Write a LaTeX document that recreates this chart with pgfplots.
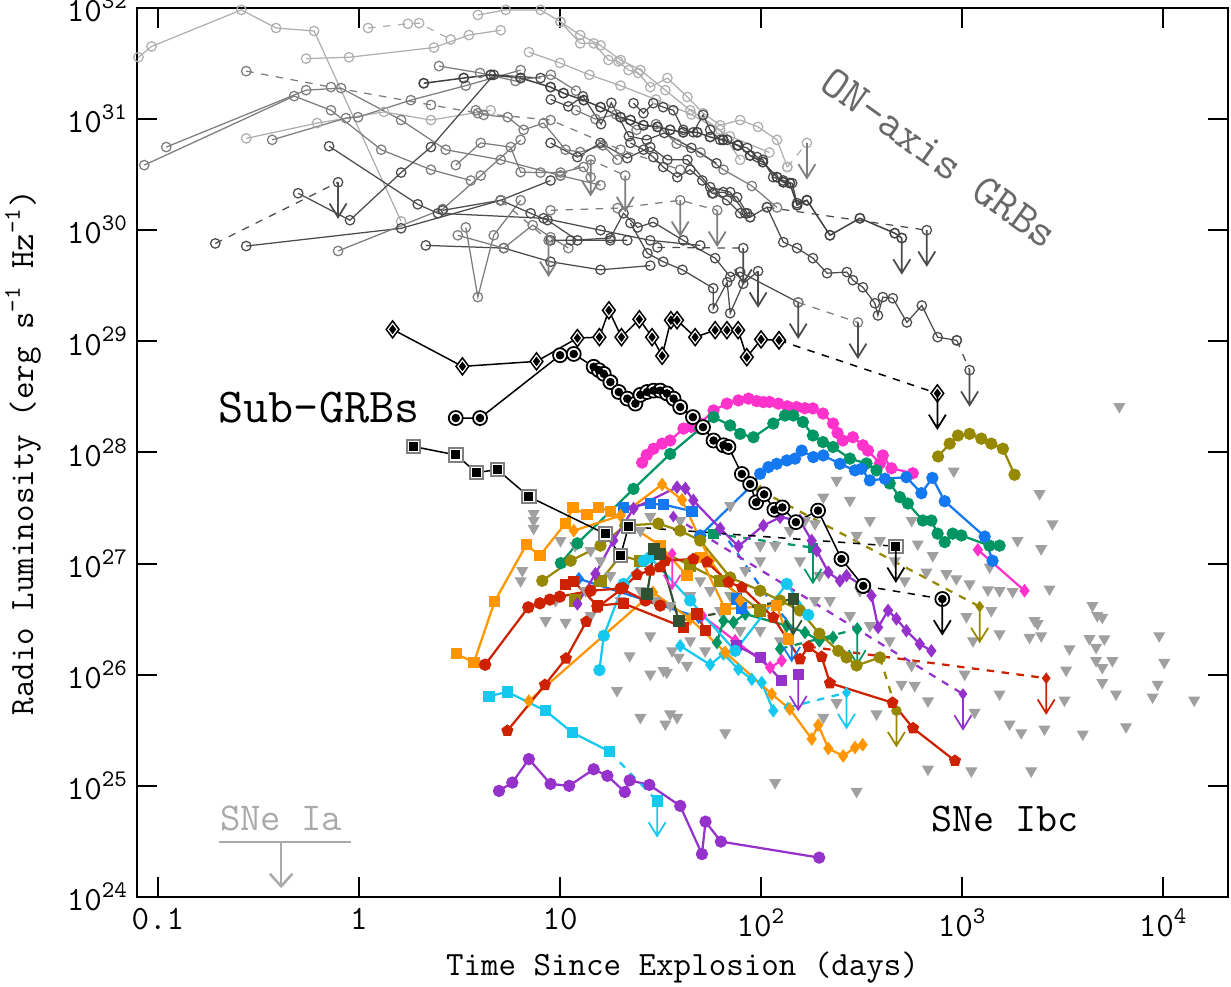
\documentclass[border=0pt]{standalone}
\usepackage{pgfplots}
\pgfplotsset{compat=1.18}
\usetikzlibrary{arrows.meta}

\definecolor{mag}{RGB}{255,51,204}
\definecolor{grn}{RGB}{0,150,100}
\definecolor{blu}{RGB}{20,120,240}
\definecolor{oli}{RGB}{150,136,0}
\definecolor{pur}{RGB}{150,50,204}
\definecolor{cya}{RGB}{20,200,240}
\definecolor{ora}{RGB}{255,150,0}
\definecolor{rd}{RGB}{204,34,0}
\definecolor{dgr}{RGB}{50,80,50}
\definecolor{tri}{RGB}{160,160,160}
\definecolor{gl}{RGB}{175,175,175}
\definecolor{gm}{RGB}{125,125,125}
\definecolor{gd}{RGB}{75,75,75}
\definecolor{txtg}{RGB}{105,105,105}
\definecolor{iag}{RGB}{170,170,170}

% upper limit arrow
\pgfdeclareplotmark{ul}{%
  \pgfpathmoveto{\pgfpoint{0pt}{0pt}}\pgfpathlineto{\pgfpoint{0pt}{-14pt}}%
  \pgfpathmoveto{\pgfpoint{-3.4pt}{-8.5pt}}\pgfpathlineto{\pgfpoint{0pt}{-14pt}}%
  \pgfpathlineto{\pgfpoint{3.4pt}{-8.5pt}}%
  \pgfusepathqstroke}

\pgfplotsset{
  grbL/.style={color=gl, line width=0.5pt, mark=o, mark size=1.9pt, mark options={solid}},
  grbM/.style={color=gm, line width=0.5pt, mark=o, mark size=1.9pt, mark options={solid}},
  grbD/.style={color=gd, line width=0.5pt, mark=o, mark size=1.9pt, mark options={solid}},
  sn/.style={line width=0.9pt, mark size=2pt, mark options={solid}},
  lim/.style={only marks, mark=ul, line width=0.7pt, mark options={solid}},
}

\begin{document}
\begin{tikzpicture}
\begin{axis}[
  xmode=log, ymode=log,
  scale only axis, width=436.4pt, height=355.6pt,
  xmin=0.0787, xmax=21000, ymin=1e24, ymax=1e32,
  xtick={0.1,1,10,100,1000,10000},
  xticklabels={0.1,1,10,10\textsuperscript{2},10\textsuperscript{3},10\textsuperscript{4}},
  ytick={1e24,1e25,1e26,1e27,1e28,1e29,1e30,1e31,1e32},
  yticklabels={10\textsuperscript{24},10\textsuperscript{25},10\textsuperscript{26},10\textsuperscript{27},10\textsuperscript{28},10\textsuperscript{29},10\textsuperscript{30},10\textsuperscript{31},10\textsuperscript{32}},
  xminorticks=false, yminorticks=false,
  tick align=inside, major tick length=8pt,
  every tick/.style={black, line width=0.8pt},
  axis line style={line width=0.8pt},
  tick label style={font=\ttfamily\fontsize{13.6}{15}\selectfont},
  xticklabel style={yshift=-1pt},
]

% ---- SNe Ibc non-detections
\addplot[only marks, mark=triangle*, mark size=2.4pt, mark options={rotate=180, fill=tri, draw=tri}] coordinates {
(6050,2.59e28)(908,6.8e27)(2426,4.25e27)(2812,2.28e27)(1885,1.61e27)(2472,1.36e27)
(1370,9.3e26)(1535,5.7e26)(2718,5.9e26)(4446,4.19e26)(4699,3.4e26)(4977,3.28e26)
(2291,3.06e26)(2371,2.88e26)(2163,2.17e26)(2472,2.24e26)(3417,1.71e26)(4295,2.11e26)
(4636,1.76e26)(5093,2.1e26)(9550,2.24e26)(4636,1.34e26)(4977,1.16e26)(5585,1.34e26)
(10115,1.29e26)(3289,1.1e26)(4977,8.5e25)(9376,8.2e25)(1535,6.7e25)(5822,6.7e25)
(8851,6.3e25)(3228,5.9e25)(14260,5.9e25)(1722,3.6e25)(1968,3.0e25)(2566,3.24e25)
(3980,2.92e25)(6531,3.4e25)(676,1.41e25)(1111,1.36e25)(2205,1.36e25)
(203.9,3.96e27)(237.5,5.6e27)(185.4,2.28e27)(298.5,1.79e27)(714,1.18e27)(601,1.5e27)
(664,8.36e26)(835,8.1e26)(935,7.3e26)(1089,6.56e26)(1343,5.8e26)(1782,5.6e26)
(1396,3.78e26)(1050,3.33e26)(1132,2.02e26)(1535,2.33e26)(1029,1.01e26)(560,1.21e26)
(499,8.2e25)(581,8.0e25)(676,5.8e25)(1153,4.58e25)(375,4.43e25)
(7.39,2.82e27)(7.39,2.44e27)(7.39,2.07e27)(6.49,8.65e26)(6.37,7.0e26)(10.65,2.96e26)
(19.2,7.2e25)(22.2,1.48e26)(28.1,2.24e26)(28.1,1.01e26)(32.7,1.09e26)(34.0,1.05e26)
(36.1,1.64e26)(38.9,1.43e26)(42.8,1.21e26)(25.1,4.12e25)(33.4,3.6e25)(35.3,4.43e25)
(38.2,4.12e25)(66.3,3.0e25)(117.4,1.07e25)(298.5,8.9e24)(203.9,4.12e25)(237.5,5.6e25)
(10.05,1.61e27)(11.9,1.45e27)(14.2,1.31e27)(15.9,1.06e27)(17.8,7.8e26)(13.4,5.7e26)
(20.0,4.65e26)(25.1,5.7e26)(29.8,4.65e26)(35.3,4.19e26)(44.4,5.15e26)(49.8,7.0e26)
(55.8,5.7e26)(70.2,5.15e26)(83.4,8.65e26)(98.9,1.06e27)(117.4,1.45e27)(139,1.98e27)
(165.3,2.44e27)(195,2.96e27)(276.6,3.7e27)(347.5,2.44e27)(390,1.61e27)(462,1.06e27)
(518,7.0e26)(310,5.7e26)(246.6,1.06e27)(220,4.65e26)(276.6,3.4e26)(347.5,2.76e26)
(436,2.02e26)(98.9,2.49e26)(124.3,2.02e26)(78.7,2.49e26)(62.6,3.78e26)(44.4,2.02e26)
(52.7,1.64e26)(28.1,2.65e27)(25.1,1.98e27)(39.6,2.44e27)(70.2,3.33e27)(9.5,4.65e26)
(8.47,3.06e26)(14.2,3.4e26)(561,2.44e27)(98.9,1.45e27)(156,1.06e27)(195,7.8e26)(185,4.65e26)
};

% ---- on-axis GRBs
\addplot[grbL] coordinates {(0.080,3.6e31)(0.0929,4.5e31)(0.260,9.6e31)(0.387,6.6e31)(0.598,6.2e31)(1.62,1.2e30)};
\addplot[grbM] coordinates {(0.0855,3.85e30)(0.476,1.61e31)(0.726,1.2e31)(1.29,5.3e30)(2.28,3.5e30)(3.60,2.8e30)};
\addplot[grbM] coordinates {(0.110,5.6e30)(0.546,1.82e31)(0.814,1.9e31)(1.62,9.8e30)(2.70,5.3e30)(5.07,4.3e30)(10.05,3.1e30)(15.9,2.54e30)};
\addplot[grbL] coordinates {(0.275,6.7e30)(0.619,9.2e30)(1.33,1.16e31)(2.28,9.8e30)(4.52,1.2e31)};
\addplot[grbM] coordinates {(0.370,6.5e30)(0.861,1.02e31)(0.989,1.04e31)(1.81,1.48e31)(3.40,2.0e31)(6.37,2.76e31)};
\addplot[grbD] coordinates {(0.710,5.7e30)(1.96,1.71e30)(2.47,1.42e30)(8.28,1.28e30)(15.9,1.0e30)(28.1,8.1e29)(49.8,7.3e29)};
\addplot[grbD, dashed] coordinates {(0.193,7.6e29)(0.787,2.7e30)};
\addplot[grbD] coordinates {(0.498,2.15e30)(0.902,1.23e30)(1.62,3.3e30)(2.28,5.6e30)(4.68,2.5e31)(8.0,2.34e31)};
\addplot[grbD] coordinates {(0.275,7.2e29)(1.62,1.04e30)(5.07,1.86e30)(8.97,2.8e30)};
\addplot[grbM] coordinates {(0.787,6.5e29)(2.61,1.55e30)(4.03,3.1e30)(6.37,6.5e30)};
\addplot[grbD] coordinates {(2.15,7.3e29)(5.25,6.9e29)(8.97,5.2e29)(15.9,4.4e29)(28.1,4.8e29)};
\addplot[grbM] coordinates {(3.40,1.06e30)(3.90,2.5e29)(4.68,9.0e29)(6.37,1.86e30)};
\addplot[grbM, dashed] coordinates {(0.275,2.7e31)(0.726,1.94e31)(2.28,1.34e31)(3.90,1.13e31)(8.97,9.8e30)(20.0,5.3e30)(39.6,3.5e30)};
\addplot[grbL] coordinates {(0.546,3.5e31)(0.892,3.6e31)(2.36,4.4e31)(3.52,5.7e31)(5.07,6.3e31)};
\addplot[grbL, dashed] coordinates {(1.11,6.6e31)(1.75,7.2e31)(1.99,7.3e31)(2.86,5.2e31)};
\addplot[grbL] coordinates {(3.90,8.65e31)(5.37,9.6e31)(8.0,9.6e31)(10.05,7.5e31)(12.6,5.7e31)(15.9,4.6e31)(20.0,3.4e31)(25.1,2.76e31)(33.4,1.82e31)(44.4,1.2e31)(62.6,8.0e30)(78.7,4.3e30)};
\addplot[grbL] coordinates {(10.05,7.5e31)(12.6,4.8e31)(14.7,4.8e31)(17.4,3.4e31)(19.5,3.3e31)(21.9,2.76e31)(24.5,2.6e31)(28.1,1.94e31)(34.2,2.34e31)(43.0,1.58e31)(51.5,1.13e31)(62.6,8.8e30)(78.7,9.8e30)(96.6,8.5e30)(120,6.5e30)(135,3.7e30)};
\addplot[grbL, dashed] coordinates {(135,3.7e30)(169,6.1e30)};
\addplot[grbL] coordinates {(7,4e31)(10,3.2e31)(14,2.5e31)(20,2e31)(30,1.5e31)(45,1.1e31)(70,7e30)(110,5e30)};
\addplot[grbM] coordinates {(2.5,3e31)(4,2.6e31)(6,2.2e31)(9,2.5e31)(12,1.8e31)};
\addplot[grbM] coordinates {(12,1.2e31)(15,1.0e31)(19,1.1e31)(24,8e30)(30,9e30)(38,6e30)(50,5e30)(65,3.5e30)(90,2.5e30)(120,1.6e30)};
\addplot[grbD] coordinates {(9,1.5e31)(11,1.3e31)(13,1.6e31)(16,9e30)(18,1.4e31)(22,7e30)(27,6.5e30)(33,7.5e30)(45,5.5e30)(60,4e30)};
\addplot[grbD] coordinates {(23.2,1.39e31)(26.0,1.13e31)(29.1,1.39e31)(32.6,1.28e31)(36.6,1.2e31)(41.0,8.0e30)(46.0,7.6e30)(51.5,1.09e31)(55.8,8.0e30)(62.6,6.5e30)(67.8,6.5e30)(76.0,5.8e30)(85.3,5.5e30)(95.5,4.55e30)(102,4.3e30)(114.8,3.0e30)(129,2.8e30)(142.6,2.65e30)(151,1.75e30)(169,1.86e30)};
\addplot[grbD] coordinates {(22.4,6.1e30)(26.0,5.3e30)(29.1,4.55e30)(32.6,3.7e30)(38.3,3.0e30)(44.4,3.5e30)(51.0,2.8e30)(57.1,2.15e30)(64.8,2.2e30)(76.0,1.98e30)(85.3,1.42e30)};
\addplot[grbM] coordinates {(3.81,1.2e31)(4.17,1.09e31)(5.49,1.04e31)(6.59,8.0e30)(8.28,9.2e30)(10.65,5.3e30)(12.6,5.05e30)(16.3,5.8e30)(19.3,4.3e30)};
\addplot[grbM] coordinates {(3.03,3.85e30)(4.03,6.1e30)(5.68,5.6e30)(6.37,3.33e30)(8.0,3.3e30)(10.05,3.3e30)(13.1,3.7e30)(14.2,3.0e30)};
\addplot[grbD] coordinates {(2.61,1.51e30)(5.07,1.86e30)(7.14,1.42e30)(8.67,1.23e30)(12.2,8.1e29)(17.8,8.1e29)(21.6,8.1e29)};
\addplot[grbM] coordinates {(3.10,9.0e29)(5.25,6.9e29)(7.31,1.11e30)(8.97,8.65e29)(11.0,6.9e29)};
\addplot[grbD] coordinates {(57.8,2.15e30)(67.8,1.86e30)(78.7,1.42e30)(88.2,1.31e30)(107,1.61e30)(129,7.8e29)(151,6.9e29)(181,5.6e29)(213,4.1e29)(267,4.2e29)(286,3.55e29)(321,3.06e29)(368,2.2e29)(381,1.71e29)(403,2.5e29)(452,2.44e29)(531,1.48e29)(630,2.1e29)(755,1.09e29)(940,1.02e29)};
\addplot[grbD, dashed] coordinates {(940,1.02e29)(1089,5.5e28)};
\addplot[grbD] coordinates {(22.4,1.16e30)(27.2,6.2e29)(32.6,5.2e29)(40.6,4.4e29)(57.8,3.0e29)(57.8,1.98e29)(67.8,3.4e29)(70.2,1.79e29)(81.5,3.3e29)(96.6,4.28e29)};
\addplot[color=black!75, line width=0.6pt, mark=o, mark size=1.9pt] coordinates {(2.10,2.1e31)(3.32,2.34e31)(4.52,2.5e31)(6.37,2.34e31)(8.97,1.94e31)(10.4,1.71e31)(13.1,1.48e31)(15.9,1.28e31)(20.0,1.04e31)(22.4,9.8e30)(26.0,8.8e30)(30.5,8.5e30)(35.3,8.0e30)(41.0,7.6e30)(48.1,7.6e30)(55.8,6.9e30)(64.8,6.5e30)(76.9,5.8e30)(88.2,4.7e30)(102,4.1e30)(120,3.0e30)(129,2.7e30)(139,2.65e30)(151,1.68e30)(169,1.86e30)(220,9.0e29)(310,1.28e30)(462,9.4e29)(501,8.5e29)};
\addplot[grbD] coordinates {(8.97,6.1e30)(12.2,4.55e30)(15.9,6.1e30)(21.6,4.45e30)(28.1,5.6e30)(34.2,4.3e30)(43.0,4.3e30)(55.8,2.44e30)(70.2,2.2e30)(83.4,1.42e30)(88.2,1.31e30)};
\addplot[grbD] coordinates {(8.97,8.1e29)(11.3,8.1e29)(17.8,8.5e29)(20.7,1.42e30)(24.3,1.06e30)(29.1,1.18e30)(41.0,8.1e29)(59.1,5.6e29)(70.2,3.8e29)(78.7,4.2e29)(153,2.24e29)};
\addplot[grbM, dashed] coordinates {(153,2.24e29)(303,1.48e29)};
\addplot[grbM, dashed] coordinates {(8.97,1.51e30)(19.3,1.58e30)(39.6,1.86e30)(60.5,1.51e30)};
\addplot[grbD, dashed] coordinates {(30.5,7.0e29)(81.5,6.9e29)};
\addplot[grbD, dashed] coordinates {(107,1.61e30)(667,1.0e30)};
\addplot[grbM, dashed] coordinates {(5.07,1.86e30)(8.77,8.1e29)};
\addplot[grbM, dashed] coordinates {(10.05,3.1e30)(14.2,4.3e30)(21.1,3.1e30)};
\addplot[gd, lim] coordinates {(0.787,2.7e30)(1089,5.5e28)(501,8.5e29)(153,2.24e29)(81.5,6.9e29)(667,1.0e30)(96.6,4.28e29)(303,1.48e29)};
\addplot[gm, lim] coordinates {(169,6.1e30)(39.6,1.86e30)(60.5,1.51e30)(8.77,8.1e29)(14.2,4.3e30)(21.1,3.1e30)};

% ---- SNe Ibc detections
% magenta
\addplot[mag, sn, mark=*] coordinates {(25.6,8.1e27)(27,9.5e27)(29.2,1.08e28)(32.2,1.2e28)(35.3,1.28e28)(41.1,1.64e28)(45,1.7e28)(49.8,1.82e28)(58.0,2.39e28)(67.6,2.75e28)(77.1,2.94e28)(86.5,3.05e28)(95,2.9e28)(102.6,2.84e28)(110,2.85e28)(121.9,2.75e28)(135,2.6e28)(150,2.56e28)(165,2.5e28)(181,2.49e28)(203,2.24e28)(228,1.82e28)(240,1.5e28)(255,1.28e28)(286,1.37e28)(321,1.16e28)(340,1.04e28)(390,7.96e27)(403,9.4e27)(445,7.2e27)(568,6.5e27)};
\addplot[mag, sn, mark=diamond*] coordinates {(1197,1.33e27)(2043,5.7e26)};
\addplot[mag, sn, mark=diamond*] coordinates {(50.8,3.4e26)(74.3,2.02e26)(110.8,1.16e26)(126.7,1.34e26)};
\addplot[mag, sn, mark=diamond*, mark size=1.6pt] coordinates {(36.1,1.23e27)};
\addplot[mag, lim] coordinates {(36.1,1.23e27)};
% green
\addplot[grn, sn, mark=*] coordinates {(10.1,1.01e27)(12.2,1.52e27)(23.2,4.7e27)(35.3,9.7e27)(49.8,1.64e28)(58.0,2.08e28)(70.2,1.75e28)(78.7,1.47e28)(91.6,1.37e28)(115,1.82e28)(131.5,2.15e28)(144.6,2.15e28)(161.4,1.88e28)(181,1.42e28)(203,1.24e28)(228,1.12e28)(276.6,8.8e27)(334.6,7.96e27)(375,6.9e27)(436,5.26e27)(490,3.96e27)(537,3.47e27)(637,2.44e27)(703,2.44e27)(755,1.86e27)(819,1.56e27)(897,1.86e27)(991,1.79e27)(1368,1.45e27)(1535,1.45e27)};
\addplot[grn, sn, mark=diamond*] coordinates {(60.3,1.95e26)(65.0,3.06e26)(72.9,2.96e26)(83.4,3.52e26)(134.2,2.76e26)(165.3,2.4e26)(195,2.02e26)(228,2.17e26)};
\addplot[grn, sn, dashed, mark=square*, mark size=1.6pt] coordinates {(58,1.86e27)(181,1.39e27)};
\addplot[grn, sn, dashed, mark=diamond*] coordinates {(124.3,1.71e26)(300.6,2.58e26)};
\addplot[grn, lim] coordinates {(181,1.39e27)(300.6,2.58e26)};
% blue
\addplot[blu, sn, mark=*] coordinates {(49.8,1.79e27)(89.9,5.05e27)(98.9,6.43e27)(108.7,7.38e27)(119.6,7.9e27)(134.2,8.47e27)(147.5,8.8e27)(159.2,1.04e28)(181.8,9.08e27)(203.9,9.4e27)(246.6,7.9e27)(293,6.9e27)(316,7.13e27)(347.5,5.6e27)(413,5.8e27)(528,5.99e27)(627,4.3e27)(711,5.9e27)(819,3.64e27)(1294,1.75e27)(1416,1.06e27)};
\addplot[blu, sn, mark=diamond*] coordinates {(12.4,7.3e26)(48.9,3.28e26)};
\addplot[blu, sn, mark=square*, mark size=1.8pt] coordinates {(20.7,3.21e27)(28.1,3.45e27)(32.6,3.4e27)(45.3,2.96e27)};
\addplot[blu, sn, mark=square*, mark size=1.8pt] coordinates {(75.7,4.8e26)(80.2,3.99e26)};
\addplot[blu, sn, dashed] coordinates {(62.6,2.07e27)(110.8,4.65e26)(141.9,2.76e26)};
\addplot[blu, lim] coordinates {(141.9,2.76e26)};
% olive
\addplot[oli, sn, mark=*] coordinates {(759,9.2e27)(867,1.2e28)(953,1.42e28)(1089,1.47e28)(1245,1.33e28)(1396,1.2e28)(1595,1.08e28)(1822,6.3e27)};
\addplot[oli, sn, mark=*] coordinates {(8.16,7.0e26)(11.3,1.06e27)(15.9,1.45e27)(21.1,2.2e27)(30.8,2.29e27)(39.6,1.98e27)(49.8,1.61e27)(70.2,7.5e26)(98.9,5.7e26)(124.3,4.65e26)(156,3.78e26)(195,2.34e26)(242,1.64e26)(266,1.43e26)(298.5,1.21e26)(390,1.43e26)};
\addplot[oli, sn, dashed, mark=*, mark size=1.6pt] coordinates {(390,1.43e26)(471,4.74e25)};
\addplot[oli, sn, mark=square*, mark size=2pt] coordinates {(11.9,4.65e26)(15.9,7.0e26)(20.0,1.18e27)(25.1,1.06e27)(31.5,1.31e27)(44.4,9.6e26)(62.6,7.0e26)(98.9,3.78e26)};
\addplot[oli, sn, dashed, mark=diamond*, mark size=1.6pt] coordinates {(98.9,4.55e27)(1222,4.1e26)};
\addplot[oli, lim] coordinates {(471,4.74e25)(1222,4.1e26)};
% purple
\addplot[pur, sn, mark=*] coordinates {(4.97,9.0e24)(5.79,1.07e25)(7.0,1.74e25)(8.97,1.04e25)(11.1,1.0e25)(14.7,1.41e25)(17.2,1.23e25)(21.0,8.8e24)(22.2,1.12e25)(27.8,1.02e25)(39.6,6.6e24)(50.8,2.43e24)(52.9,4.76e24)(63.1,3.15e24)(194.5,2.26e24)};
\addplot[pur, sn, mark=diamond*] coordinates {(12.2,4.34e26)(15.0,8.1e26)(18.4,1.61e27)(23.2,3.13e27)(38.2,4.87e27)(42.0,4.74e27)(46.0,3.7e27)(62.6,2.07e27)(77.1,1.43e27)(102.6,2.2e27)(124.3,2.61e27)(156,2.44e27)(178.5,1.61e27)(189,1.31e27)(216,8.36e26)(246.6,7.0e26)(266,7.8e26)(328,6.1e26)(354,5.15e26)(382,2.67e26)(428,3.78e26)(471,3.18e26)(528,2.49e26)(615,1.89e26)(703,1.64e26)};
\addplot[pur, sn, dashed, mark=diamond*, mark size=1.6pt] coordinates {(36.6,2.65e27)(1009,6.7e25)};
\addplot[pur, sn, mark=square*, mark size=1.8pt] coordinates {(75.7,1.82e26)(98.9,1.43e26)(126.7,8.8e25)};
\addplot[pur, sn, mark=square*, mark size=1.8pt] coordinates {(153,1.0e26)};
\addplot[pur, lim] coordinates {(1009,6.7e25)(153,1.0e26)};
% cyan
\addplot[cya, sn, mark=square*, mark size=1.8pt] coordinates {(4.43,6.4e25)(5.47,7.0e25)(8.47,4.74e25)(11.5,3.02e25)(17.6,2.04e25)};
\addplot[cya, sn, dashed, mark=square*, mark size=1.8pt] coordinates {(17.6,2.04e25)(30.4,7.3e24)};
\addplot[cya, sn, mark=*] coordinates {(15.7,1.1e26)(16.5,2.24e26)(20.7,6.56e26)(26.1,1.06e27)(28.1,1.14e27)(44.4,4.65e26)(74.3,1.64e26)(134.2,6.56e26)(171.6,3.45e26)};
\addplot[cya, sn, mark=diamond*] coordinates {(39.6,1.82e26)(55.8,1.23e26)(65.0,1.54e26)(77.1,1.12e26)(89.9,9.1e25)(100.7,8.5e25)(115,4.74e25)};
\addplot[cya, sn, dashed, mark=diamond*, mark size=1.6pt] coordinates {(136,5.07e25)(266,6.9e25)};
\addplot[cya, lim] coordinates {(30.4,7.3e24)(266,6.9e25)};
% orange
\addplot[ora, sn, mark=square*, mark size=1.8pt] coordinates {(3.05,1.54e26)(3.73,1.29e26)(4.73,4.57e26)(6.8,1.48e27)(7.94,1.18e27)(10.65,2.31e27)(11.6,3.18e27)(13.6,2.75e27)(15.6,3.18e27)(17.8,2.96e27)(22.4,2.2e27)(31.5,1.45e27)(42.8,7.8e26)(49.8,1.14e27)(66.3,3.9e26)(119.6,4.19e26)(136.6,2.1e26)};
\addplot[ora, sn, mark=diamond*] coordinates {(7.0,5.8e25)(29.0,5.5e26)(44.4,3.18e26)(66.3,1.59e26)(113,6.7e25)(139,4.9e25)(178.5,2.64e25)(192.5,3.52e25)(216,2.17e25)(256,1.86e25)(293,2.21e25)(320,2.34e25)};
\addplot[ora, sn, mark=diamond*] coordinates {(11.7,1.98e27)(20.0,2.7e27)(32.2,5.15e27)(40.4,3.75e27)(55.8,1.06e27)(78.7,4.65e26)};
% red
\addplot[rd, sn, mark=*] coordinates {(4.24,1.23e26)(6.95,4.04e26)(7.94,4.39e26)(8.9,4.74e26)(9.98,5.04e26)(14.2,5.7e26)(20.0,5.96e26)(26.6,4.65e26)(31.5,4.19e26)};
\addplot[rd, sn, mark=square*, mark size=1.8pt] coordinates {(10.6,6.5e26)(11.7,6.9e26)(15.3,4.19e26)(20.6,4.39e26)(41.1,2.67e26)(48.0,3.52e26)(52.7,2.49e26)};
\addplot[rd, sn, mark=pentagon*] coordinates {(5.47,3.13e25)(8.41,8.1e25)(10.7,1.4e26)(13.5,3.0e26)(15.3,4.02e26)(20.6,6.04e26)(24.2,7.96e26)(28.1,8.65e26)(31.5,9.27e26)(33.4,1.06e27)(46.1,1.10e27)(53.8,1.03e27)(68.8,6.8e26)(80.2,6.1e26)(115,3.28e26)(156,1.38e26)(171.6,1.79e26)(200,1.45e26)(220,8.4e25)(450,5.6e25)(570,3.3e25)(921,1.68e25)};
\addplot[rd, sn, dashed, mark=diamond*, mark size=1.6pt] coordinates {(171.6,1.79e26)(2618,9.3e25)};
\addplot[rd, lim] coordinates {(2618,9.3e25)};
% dark green
\addplot[dgr, sn, mark=square*, mark size=2pt] coordinates {(27.1,5.33e26)(29.4,1.36e27)(31.5,1.22e27)(38.9,3.06e26)};
\addplot[dgr, sn, dashed, mark=square*, mark size=1.8pt] coordinates {(38.9,3.06e26)(144.6,4.8e26)};
\addplot[dgr, lim] coordinates {(144.6,4.8e26)};

% ---- sub-energetic GRBs
\addplot[black, line width=0.6pt, mark=diamond*, mark size=3.4pt, mark options={fill=white, draw=black, line width=0.6pt}] coordinates {(1.47,1.28e29)(3.27,5.95e28)(7.64,6.6e28)(12.2,1.07e29)(15.7,1.09e29)(17.5,1.9e29)(20.2,1.09e29)(24.8,1.58e29)(28.7,1.09e29)(32.2,7.4e28)(35.6,1.55e29)(38.2,1.55e29)(47.0,1.09e29)(59.1,1.26e29)(67.6,1.26e29)(76.9,1.26e29)(84.9,7.2e28)(100,1.04e29)(122.8,1.02e29)};
\addplot[black, line width=0.6pt, dashed, mark=diamond*, mark size=3.4pt, mark options={solid, fill=white, draw=black, line width=0.6pt}] coordinates {(122.8,1.02e29)(753,3.4e28)};
\addplot[only marks, black, mark=diamond*, mark size=1.6pt] coordinates {(1.47,1.28e29)(3.27,5.95e28)(7.64,6.6e28)(12.2,1.07e29)(15.7,1.09e29)(17.5,1.9e29)(20.2,1.09e29)(24.8,1.58e29)(28.7,1.09e29)(32.2,7.4e28)(35.6,1.55e29)(38.2,1.55e29)(47.0,1.09e29)(59.1,1.26e29)(67.6,1.26e29)(76.9,1.26e29)(84.9,7.2e28)(100,1.04e29)(122.8,1.02e29)(753,3.4e28)};

\addplot[black, line width=0.6pt, mark=*, mark size=2.8pt, mark options={fill=white, draw=black, line width=0.7pt}] coordinates {(3.03,2.04e28)(4.0,2.04e28)(10.0,7.5e28)(11.7,7.7e28)(14.7,5.9e28)(15.6,5.5e28)(16.5,5.1e28)(17.8,4.3e28)(19.6,3.5e28)(21.6,3.05e28)(23.7,2.75e28)(25.1,3.3e28)(27.1,3.5e28)(29.2,3.6e28)(31.5,3.6e28)(34.0,3.4e28)(36.7,3.05e28)(39.6,2.56e28)(45.8,2.08e28)(51.4,1.69e28)(58.0,1.28e28)(65.0,1.16e28)(68.8,1.12e28)(80.2,6.4e27)(88.2,5.2e27)(94.5,3.56e27)(103.5,4.2e27)(116.4,3.05e27)(127.6,3.2e27)(149,2.36e27)(192,3.0e27)(251,1.10e27)(322,6.3e26)};
\addplot[black, line width=0.6pt, dashed, mark=*, mark size=2.8pt, mark options={solid, fill=white, draw=black, line width=0.7pt}] coordinates {(322,6.3e26)(797,4.8e26)};
\addplot[only marks, black, mark=*, mark size=1.5pt] coordinates {(3.03,2.04e28)(4.0,2.04e28)(10.0,7.5e28)(11.7,7.7e28)(14.7,5.9e28)(15.6,5.5e28)(16.5,5.1e28)(17.8,4.3e28)(19.6,3.5e28)(21.6,3.05e28)(23.7,2.75e28)(25.1,3.3e28)(27.1,3.5e28)(29.2,3.6e28)(31.5,3.6e28)(34.0,3.4e28)(36.7,3.05e28)(39.6,2.56e28)(45.8,2.08e28)(51.4,1.69e28)(58.0,1.28e28)(65.0,1.16e28)(68.8,1.12e28)(80.2,6.4e27)(88.2,5.2e27)(94.5,3.56e27)(103.5,4.2e27)(116.4,3.05e27)(127.6,3.2e27)(149,2.36e27)(192,3.0e27)(251,1.10e27)(322,6.3e26)(797,4.8e26)};

\addplot[black, line width=0.6pt, mark=square*, mark size=2.7pt, mark options={fill=white, draw=gray, line width=0.8pt}] coordinates {(1.87,1.13e28)(3.03,9.5e27)(3.85,6.6e27)(4.88,7.0e27)(7.0,4.0e27)(16.8,1.85e27)(20.0,1.18e27)(21.9,2.15e27)};
\addplot[black, line width=0.6pt, dashed, mark=square*, mark size=2.7pt, mark options={solid, fill=white, draw=gray, line width=0.8pt}] coordinates {(21.9,2.15e27)(468,1.43e27)};
\addplot[only marks, black, mark=square*, mark size=1.6pt] coordinates {(1.87,1.13e28)(3.03,9.5e27)(3.85,6.6e27)(4.88,7.0e27)(7.0,4.0e27)(16.8,1.85e27)(20.0,1.18e27)(21.9,2.15e27)(468,1.43e27)};
\addplot[black, lim] coordinates {(753,3.4e28)(797,4.8e26)(468,1.43e27)};

% ---- SNe Ia limit
\addplot[iag, line width=1pt] coordinates {(0.202,3.13e24)(0.912,3.13e24)};
\addplot[iag, line width=1pt, -{Straight Barb[length=5pt,width=9pt]}] coordinates {(0.41,3.13e24)(0.41,1.2e24)};

% ---- labels
\node[rotate=-35.6, text=txtg, font=\ttfamily\fontsize{18}{20}\selectfont] at (axis cs:773,4.45e30) {ON-axis GRBs};
\node[text=black, font=\ttfamily\fontsize{19.5}{21}\selectfont] at (axis cs:0.633,2.54e28) {Sub-GRBs};
\node[text=black, font=\ttfamily\fontsize{16.3}{18}\selectfont] at (axis cs:1626,5.05e24) {SNe Ibc};
\node[text=iag, font=\ttfamily\fontsize{15.8}{18}\selectfont] at (axis cs:0.41,5.05e24) {SNe Ia};
\end{axis}
\node[rotate=90, font=\ttfamily\fontsize{13.6}{15}\selectfont] at ([xshift=-45.6pt]current axis.west) {Radio Luminosity (erg s\textsuperscript{-1} Hz\textsuperscript{-1})};
\node[font=\ttfamily\fontsize{13.6}{15}\selectfont] at ([yshift=-28.4pt]current axis.south) {Time Since Explosion (days)};
\pgfresetboundingbox
\path ([shift={(-54.8pt,-36pt)}]current axis.south west) rectangle ([shift={(1.2pt,3.2pt)}]current axis.north east);
\end{tikzpicture}
\end{document}
